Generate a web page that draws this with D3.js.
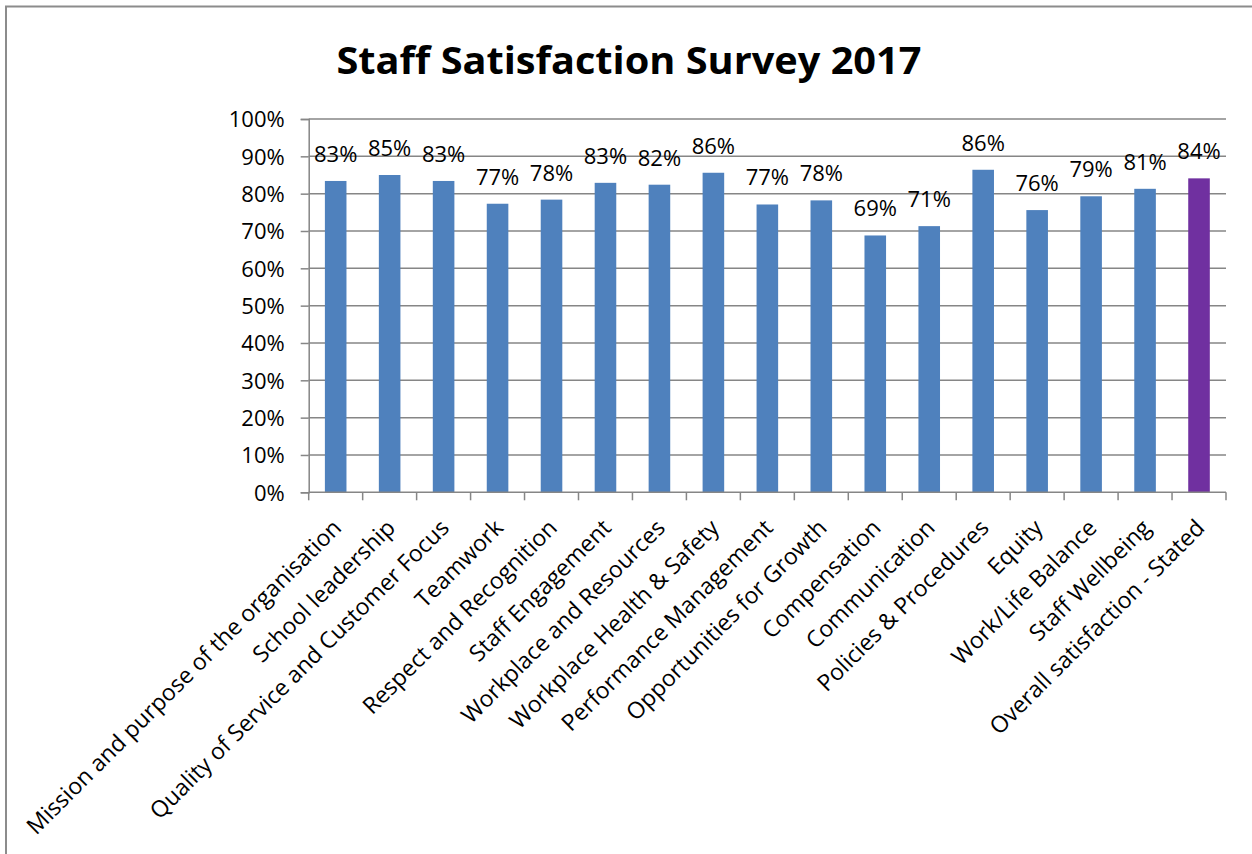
<!DOCTYPE html>
<html>
<head>
<meta charset="utf-8">
<script src="https://cdn.jsdelivr.net/npm/d3@7"></script>
<style>
    body { margin: 0; background: #fff; }
    svg { display: block; }
</style>
</head>
<body>
<div id="chart"></div>
<script>
// Survey categories and satisfaction scores
const categories = [
    'Mission and purpose of the organisation',
    'School leadership',
    'Quality of Service and Customer Focus',
    'Teamwork',
    'Respect and Recognition',
    'Staff Engagement',
    'Workplace and Resources',
    'Workplace Health & Safety',
    'Performance Management',
    'Opportunities for Growth',
    'Compensation',
    'Communication',
    'Policies & Procedures',
    'Equity',
    'Work/Life Balance',
    'Staff Wellbeing',
    'Overall satisfaction - Stated'
];
const scores = [0.834, 0.850, 0.834, 0.773, 0.784, 0.829, 0.824, 0.856, 0.771, 0.782, 0.688, 0.713, 0.864, 0.756, 0.793, 0.813, 0.841];
const yTicks = [0, 0.1, 0.2, 0.3, 0.4, 0.5, 0.6, 0.7, 0.8, 0.9, 1.0];
const highlight = 'Overall satisfaction - Stated';

const width = 1252;
const height = 854;
const margin = { left: 308.7, right: 26, top: 119, bottom: 361.7 };

const svg = d3.select('#chart')
    .append('svg')
    .attr('width', width)
    .attr('height', height);

// Frame like the Excel chart border
svg.append('rect')
    .attr('x', 6)
    .attr('y', 6.5)
    .attr('width', width + 20)
    .attr('height', height + 20)
    .attr('fill', 'none')
    .attr('stroke', '#8c8c8c')
    .attr('stroke-width', 2);

// Title
svg.append('text')
    .attr('x', 629)
    .attr('y', 74)
    .attr('text-anchor', 'middle')
    .attr('font-family', 'Open Sans, sans-serif')
    .attr('font-weight', 'bold')
    .attr('font-size', 38)
    .attr('textLength', 585)
    .attr('lengthAdjust', 'spacingAndGlyphs')
    .text('Staff Satisfaction Survey 2017');

const x = d3.scaleBand()
    .domain(categories)
    .range([margin.left, width - margin.right])
    .paddingInner(0.6)
    .paddingOuter(0.3);

const y = d3.scaleLinear()
    .domain([0, 1])
    .range([height - margin.bottom, margin.top]);

// Gridlines
svg.append('g')
    .selectAll('line')
    .data(yTicks.filter(d => d > 0))
    .enter()
    .append('line')
    .attr('x1', margin.left)
    .attr('x2', width - margin.right)
    .attr('y1', d => y(d))
    .attr('y2', d => y(d))
    .attr('stroke', '#868686')
    .attr('stroke-width', 1.5);

// Y axis
const yAxis = svg.append('g')
    .attr('transform', `translate(${margin.left},0)`)
    .call(d3.axisLeft(y)
        .tickValues(yTicks)
        .tickFormat(d3.format('.0%'))
        .tickSize(8)
        .tickPadding(16));

yAxis.select('.domain').attr('stroke', '#868686').attr('stroke-width', 1.5);
yAxis.selectAll('.tick line').attr('stroke', '#868686').attr('stroke-width', 1.5);
yAxis.selectAll('text')
    .attr('font-family', 'Open Sans, sans-serif')
    .attr('font-size', 22)
    .attr('fill', '#000')
    .attr('dy', '0.36em');

// Bars
svg.append('g')
    .selectAll('rect')
    .data(categories)
    .enter()
    .append('rect')
    .attr('x', d => x(d))
    .attr('width', x.bandwidth())
    .attr('y', (d, i) => y(scores[i]))
    .attr('height', (d, i) => y(0) - y(scores[i]))
    .attr('fill', d => d === highlight ? '#7030A0' : '#4F81BD');

// Value labels
svg.append('g')
    .selectAll('text')
    .data(categories)
    .enter()
    .append('text')
    .attr('x', d => x(d) + x.bandwidth() / 2)
    .attr('y', (d, i) => y(scores[i]) - 19)
    .attr('text-anchor', 'middle')
    .attr('font-family', 'Open Sans, sans-serif')
    .attr('font-size', 22)
    .text((d, i) => d3.format('.0%')(scores[i]));

// X axis line and tick marks at category boundaries
const step = x.step();
const xBase = y(0);
svg.append('line')
    .attr('x1', margin.left)
    .attr('x2', width - margin.right)
    .attr('y1', xBase)
    .attr('y2', xBase)
    .attr('stroke', '#868686')
    .attr('stroke-width', 1.5);

svg.append('g')
    .selectAll('line')
    .data(d3.range(categories.length + 1))
    .enter()
    .append('line')
    .attr('x1', i => margin.left + i * step)
    .attr('x2', i => margin.left + i * step)
    .attr('y1', xBase)
    .attr('y2', xBase + 8)
    .attr('stroke', '#868686')
    .attr('stroke-width', 1.5);

// Rotated category labels
svg.append('g')
    .selectAll('text')
    .data(categories)
    .enter()
    .append('text')
    .attr('text-anchor', 'end')
    .attr('font-family', 'Open Sans, sans-serif')
    .attr('font-size', 23)
    .attr('transform', d => `translate(${x(d) + x.bandwidth() / 2 + 7},${xBase + 37}) rotate(-45)`)
    .text(d => d);
</script>
</body>
</html>
